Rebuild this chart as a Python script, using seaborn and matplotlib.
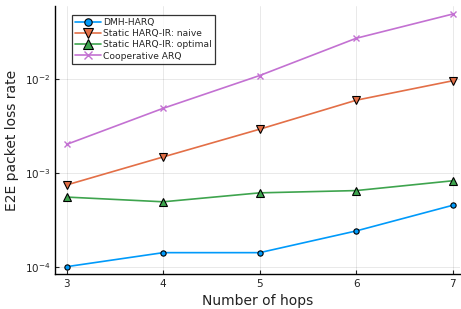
import matplotlib
matplotlib.use("Agg")
import matplotlib.pyplot as plt
import seaborn as sns
import pandas as pd
from matplotlib.ticker import LogLocator, NullLocator

hops = [3, 4, 5, 6, 7]
dmh_harq = [1.0e-4, 1.41e-4, 1.41e-4, 2.4e-4, 4.5e-4]
static_naive = [7.4e-4, 1.47e-3, 2.9e-3, 5.9e-3, 9.5e-3]
static_optimal = [5.5e-4, 4.9e-4, 6.1e-4, 6.45e-4, 8.2e-4]
coop_arq = [2.0e-3, 4.84e-3, 1.08e-2, 2.69e-2, 4.87e-2]

series_names = ["DMH-HARQ", "Static HARQ-IR: naive", "Static HARQ-IR: optimal", "Cooperative ARQ"]
series_vals = [dmh_harq, static_naive, static_optimal, coop_arq]
colors = ["#009AFA", "#E36F47", "#3EA44E", "#C371D2"]
markers = ["o", "v", "^", "x"]
msizes = [3.8, 5.5, 5.5, 4.5]

sns.set_theme(style="white")
plt.rcParams["font.family"] = ["DejaVu Sans"]

fig = plt.figure(figsize=(4.61, 3.09), dpi=100)
ax = fig.add_axes([0.1193, 0.1133, 0.8787, 0.8673])

for name, vals, c, m, ms in zip(series_names, series_vals, colors, markers, msizes):
    df = pd.DataFrame({"hops": hops, "rate": vals})
    kw = dict(marker=m, markersize=ms, color=c, linewidth=1.2, label=name)
    if m != "x":
        kw.update(markeredgecolor="black", markeredgewidth=0.8, markerfacecolor=c)
    else:
        kw.update(markeredgecolor=c, markeredgewidth=1.0)
    sns.lineplot(data=df, x="hops", y="rate", ax=ax, **kw)

ax.set_yscale("log")
ax.set_ylim(8.36e-5, 5.93e-2)
ax.set_xlim(2.879, 7.076)
ax.set_xticks(hops)
ax.yaxis.set_major_locator(LogLocator(base=10, numticks=10))
ax.yaxis.set_minor_locator(NullLocator())
ax.set_xlabel("Number of hops", fontsize=10, color="#222222")
ax.set_ylabel("E2E packet loss rate", fontsize=10, color="#222222")
ax.tick_params(axis="both", direction="in", length=3, width=0.8, labelsize=7.5,
               colors="#222222", left=True, bottom=True)
ax.grid(True, color="black", alpha=0.1, linewidth=0.6)
for s in ["top", "right"]:
    ax.spines[s].set_visible(False)
for s in ["left", "bottom"]:
    ax.spines[s].set_color("black")
    ax.spines[s].set_linewidth(1.0)

leg = ax.legend(loc="upper left", bbox_to_anchor=(0.03, 0.985), fontsize=6.6,
                frameon=True, fancybox=False, handlelength=2.8, borderpad=0.35,
                labelspacing=0.25, handletextpad=0.3, markerscale=1.4)
leg.get_frame().set_edgecolor("black")
leg.get_frame().set_linewidth(0.9)

fig.savefig("out.png", dpi=100)
